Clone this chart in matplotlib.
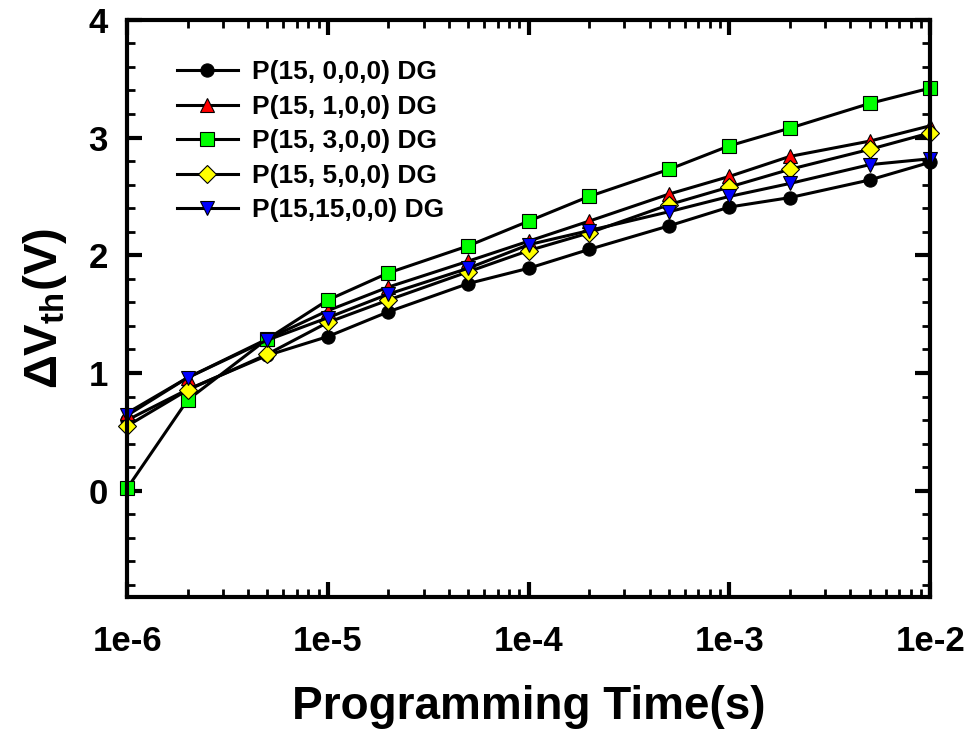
import matplotlib
matplotlib.use("Agg")
import matplotlib.pyplot as plt
from matplotlib.ticker import LogLocator, FixedLocator, MultipleLocator, NullFormatter

plt.rcParams['font.family'] = ['Liberation Sans', 'DejaVu Sans']
plt.rcParams['font.weight'] = 'bold'
plt.rcParams['mathtext.fontset'] = 'custom'
plt.rcParams['mathtext.rm'] = 'Liberation Sans:bold'
plt.rcParams['mathtext.bf'] = 'Liberation Sans:bold'

# programming time (s)
t = [1e-6, 2e-6, 5e-6, 1e-5, 2e-5, 5e-5, 1e-4, 2e-4, 5e-4, 1e-3, 2e-3, 5e-3, 1e-2]

# delta Vth (V) for each doping pattern
p_0 = [0.60, 0.86, 1.15, 1.31, 1.52, 1.76, 1.89, 2.05, 2.25, 2.41, 2.49, 2.64, 2.79]
p_1 = [0.66, 0.96, 1.29, 1.53, 1.73, 1.95, 2.12, 2.29, 2.52, 2.67, 2.84, 2.97, 3.10]
p_3 = [0.02, 0.77, 1.29, 1.62, 1.85, 2.08, 2.29, 2.50, 2.73, 2.93, 3.08, 3.29, 3.42]
p_5 = [0.55, 0.855, 1.16, 1.43, 1.62, 1.86, 2.04, 2.19, 2.43, 2.58, 2.73, 2.90, 3.04]
p_15 = [0.64, 0.96, 1.28, 1.47, 1.67, 1.89, 2.09, 2.21, 2.37, 2.50, 2.61, 2.77, 2.82]

labels = ["P(15, 0,0,0) DG", "P(15, 1,0,0) DG", "P(15, 3,0,0) DG",
          "P(15, 5,0,0) DG", "P(15,15,0,0) DG"]
series = [p_0, p_1, p_3, p_5, p_15]
markers = ['o', '^', 's', 'D', 'v']
colors = ['#000000', '#ff0000', '#00ff00', '#ffff00', '#0000ff']

fig = plt.figure(figsize=(9.7, 7.34), dpi=100)
ax = fig.add_axes([0.131, 0.187, 0.828, 0.786])

for y, m, c, lab in zip(series, markers, colors, labels):
    ax.plot(t, y, color='black', linewidth=2.2, marker=m, markersize=9.5,
            markerfacecolor=c, markeredgecolor='black', markeredgewidth=0.8,
            label=lab, clip_on=False)

ax.set_xscale('log')
ax.set_xlim(1e-6, 1e-2)
ax.set_ylim(-0.9, 4)

ax.xaxis.set_major_locator(FixedLocator([1e-6, 1e-5, 1e-4, 1e-3, 1e-2]))
ax.xaxis.set_minor_locator(LogLocator(base=10, subs=range(2, 10)))
ax.xaxis.set_minor_formatter(NullFormatter())
ax.set_xticklabels(["1e-6", "1e-5", "1e-4", "1e-3", "1e-2"])
ax.yaxis.set_major_locator(FixedLocator([0, 1, 2, 3, 4]))
ax.yaxis.set_minor_locator(MultipleLocator(0.2))

for s in ax.spines.values():
    s.set_linewidth(3)

ax.tick_params(which='both', direction='in', top=True, right=True)
ax.tick_params(which='major', length=11, width=3, labelsize=25)
ax.tick_params(which='minor', length=6, width=2)
ax.tick_params(axis='x', which='major', pad=20)
ax.tick_params(axis='y', which='major', pad=14)

ax.set_xlabel("Programming Time(s)", fontsize=33, fontweight='bold', labelpad=20)
ax.set_ylabel(r"ΔV$_{\rm th}$(V)", fontsize=34, fontweight='bold', labelpad=14)

ax.legend(loc='upper left', bbox_to_anchor=(0.062, 0.93), frameon=False,
          fontsize=19, labelspacing=0.4, handlelength=2.3, handletextpad=0.55,
          borderaxespad=0, borderpad=0)

fig.savefig("out.png", dpi=100)
